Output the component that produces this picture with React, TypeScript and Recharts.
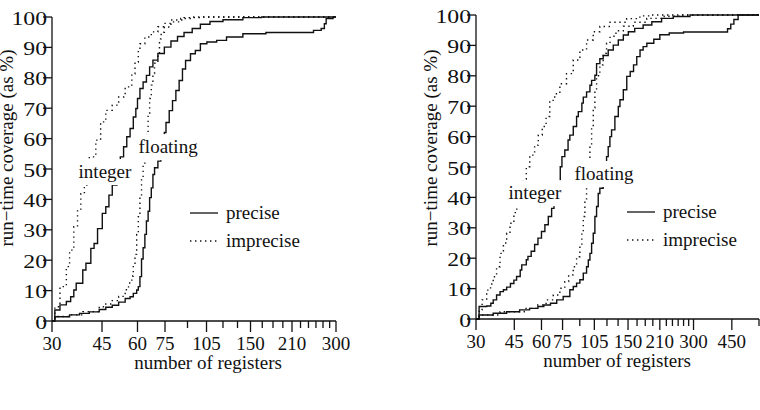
import React from 'react';
import { LineChart, Line, XAxis, YAxis, ReferenceDot, Legend } from 'recharts';

const FONT = "'Liberation Serif', 'Times New Roman', Times, 'DejaVu Serif', serif";
const INK = '#111';
const DOTS = '1.4 3.6';
const TXT = { fontFamily: FONT, fontSize: 19 };

// [number of registers, run-time coverage %]
const leftIntPrecise = [
  [30, 0], [30.7, 3.6], [32, 5.3], [33.7, 6.4], [34.9, 8.0], [35.8, 10.2], [36.5, 12.4], [38.5, 16.8],
  [39.5, 19.0], [41.1, 23.9], [42.2, 25.5], [43.4, 30.4], [45.1, 35.4], [46.4, 37.6], [47.6, 41.4],
  [48.9, 44.7], [50.8, 49.6], [52.2, 54.0], [53.6, 57.3], [55.0, 60.6], [56.5, 63.3], [58.0, 67.1],
  [59.2, 69.9], [60.0, 73.2], [61.2, 76.5], [62.8, 78.6], [64.5, 80.8], [66.2, 83.6], [68.0, 85.8],
  [70.8, 88.0], [74.6, 90.1], [78.7, 92.1], [83.0, 93.6], [87.5, 94.9], [93.5, 96.2], [99.9, 97.6],
  [108, 98.5], [120, 99.1], [141, 99.8], [164, 100], [300, 100],
];
const leftIntImprecise = [
  [30, 0], [30.7, 4.7], [32, 11.3], [33.7, 17.9], [34.6, 23.3], [35.8, 31.0], [36.9, 36.5], [37.9, 41.9],
  [39.0, 44.7], [40.6, 54.0], [42.8, 59.5], [44.5, 65.5], [46.4, 69.3], [48.9, 71.0], [51.5, 73.7],
  [54.3, 77.0], [57.3, 81.3], [58.8, 85.2], [60.4, 89.0], [61.2, 91.2], [63.7, 93.4], [67.1, 95.1],
  [70.8, 96.8], [74.6, 97.9], [78.7, 99.0], [87.5, 99.8], [99.9, 100], [300, 100],
];
const leftFloatPrecise = [
  [30, 0], [30.7, 1.4], [34.6, 2.0], [37.5, 2.5], [40.6, 3.0], [44.0, 3.8], [46.4, 4.5], [48.9, 5.2],
  [51.5, 6.2], [54.3, 7.4], [56.5, 8.0], [58.0, 9.1], [59.6, 10.2], [60.4, 11.3], [61.2, 14.6],
  [62.0, 20.4], [62.8, 24.1], [63.7, 28.5], [64.5, 32.9], [65.4, 36.1], [66.2, 40.6], [67.1, 43.8],
  [68.0, 48.2], [68.9, 50.4], [70.8, 52.6], [72.5, 57.0], [74.6, 62.0], [75.6, 65.3], [77.6, 69.2],
  [79.7, 72.5], [81.9, 75.8], [84.1, 79.1], [86.4, 82.9], [88.6, 85.7], [92.2, 87.9], [95.9, 89.0],
  [99.9, 91.2], [105.3, 91.8], [114, 92.3], [123.5, 93.4], [141, 94.5], [170, 94.9], [250, 95.6],
  [266, 96.2], [273, 97.8], [277, 99.5], [293, 100], [300, 100],
];
const leftFloatImprecise = [
  [30, 0], [30.7, 1.5], [34.6, 2.0], [38.5, 3.1], [44.0, 4.7], [46.4, 5.6], [48.9, 6.7], [51.5, 8.1],
  [54.3, 10.3], [55.8, 12.5], [57.3, 14.8], [58.0, 17.9], [58.8, 21.9], [59.6, 28.5], [60.4, 34.3],
  [61.2, 40.7], [62.0, 47.1], [62.8, 51.5], [63.7, 56.4], [64.5, 61.7], [65.4, 68.3], [66.2, 73.2],
  [67.1, 77.6], [68.0, 81.4], [68.9, 84.8], [70.8, 88.1], [71.7, 92.8], [72.7, 95.0], [74.6, 96.7],
  [78.7, 98.4], [85.2, 99.5], [92, 100], [300, 100],
];

const rightIntPrecise = [
  [30, 0], [31, 4.1], [33.6, 4.3], [35.1, 5.2], [36, 6.3], [37.3, 7.9], [38.7, 9.0], [40.1, 9.6],
  [41.5, 10.5], [43.2, 11.7], [44.8, 12.8], [46.1, 14.0], [47.9, 16.1], [48.7, 17.8], [51.1, 19.5],
  [52, 20.6], [53.8, 22.3], [55.8, 24.5], [57.8, 26.6], [60, 28.8], [62.2, 31], [64.5, 33.7],
  [66.8, 36.4], [68.5, 39], [70.5, 42], [72, 45.2], [73.2, 50.1], [74.5, 53.4], [76.8, 55.6],
  [79.5, 58.9], [81, 60.5], [84, 63.3], [87, 66.6], [88.6, 68.2], [92, 71], [93.4, 73], [96.7, 74.7],
  [100.2, 76.9], [102, 78.5], [105.6, 80.2], [107.5, 84], [111.3, 85.6], [115.3, 86.7], [121.6, 88.5],
  [128.3, 90.1], [135.3, 91.8], [142.7, 93.4], [150.5, 94.5], [161, 95.6], [176, 96.7], [193, 97.8],
  [214, 98.9], [242, 99.5], [289, 100], [600, 100],
];
const rightIntImprecise = [
  [30, 0], [31, 3], [32, 6.3], [33.6, 9.5], [35, 11.5], [36, 13.9], [37.3, 17.2], [38.7, 21.6],
  [40.1, 25], [41.5, 28.2], [43, 31.5], [44.8, 35], [46.2, 39.1], [48, 42.5], [49.5, 46], [51.1, 50.1],
  [53, 53.9], [55.8, 57.2], [58, 60.5], [60.5, 63.3], [63, 66.6], [65.5, 71.9], [69, 74.1],
  [72.9, 77.4], [78.2, 80.7], [84, 85.2], [90.1, 88.5], [96.7, 91.8], [103.8, 94.5], [111.3, 96.2],
  [124, 97.6], [147.8, 98.8], [170, 99.7], [190, 100], [600, 100],
];
const rightFloatPrecise = [
  [30, 0], [31, 1.3], [36, 1.9], [41.5, 2.4], [47.6, 3.0], [52.9, 3.5], [57.8, 4.1], [61.5, 4.6],
  [66, 5.2], [70.5, 6.3], [75.5, 7.4], [81, 9.6], [84, 10.7], [87, 11.8], [90.1, 12.9], [93.4, 15.1],
  [96.7, 17.2], [98.5, 19.4], [100.2, 21.6], [102, 24.9], [103.8, 28.2], [105.6, 33.7], [107.5, 37],
  [109.4, 41.3], [111.3, 43], [115.3, 47.5], [119.5, 53.4], [121.6, 56.7], [123.8, 60], [126, 62.2],
  [130.5, 66.6], [135.3, 69.9], [137.7, 72.1], [142.7, 75.4], [148, 79.8], [153.5, 81.4], [159, 83.6],
  [164.5, 86.3], [170.3, 88.5], [176, 89.6], [183, 90.7], [197, 92], [210, 93.5], [232, 94.1],
  [270, 94.4], [419, 94.4], [430, 95.5], [445, 97], [460, 98.5], [481, 100], [600, 100],
];
const rightFloatImprecise = [
  [30, 0], [31, 1.3], [38.7, 2.4], [50, 3.5], [57, 4.6], [63, 6.3], [68, 7.9], [72.9, 10.1],
  [76.8, 12.3], [80, 14.5], [84, 17.2], [87, 20.5], [90.1, 24], [92, 28.5], [93.4, 33.7], [95, 39],
  [96.7, 44.6], [98.5, 50], [100.2, 56.5], [102, 63], [103.8, 69.5], [105.6, 75], [107.5, 80],
  [111.3, 83.6], [115.3, 87.4], [119.5, 90.7], [124, 93], [132, 94.8], [142.7, 96.3], [158.6, 97.6],
  [182.8, 98.9], [220, 99.6], [260, 100], [600, 100],
];

const leftTicks = [30, 45, 60, 75, 90, 105, 120, 135, 150, 165, 180, 195, 210, 225, 240, 255, 270, 285, 300];
const rightTicks = [...leftTicks, 450, 600];
const labelledTicks = [30, 45, 60, 75, 105, 150, 210, 300, 450];
const yTicks = [0, 10, 20, 30, 40, 50, 60, 70, 80, 90, 100];
const legendItems = [
  { name: 'precise', dash: undefined },
  { name: 'imprecise', dash: DOTS },
];

const toRows = (pts: number[][]) => pts.map(([v, p]) => ({ v, p }));

const XTick = ({ x, y, payload }: any) => {
  const major = labelledTicks.includes(payload.value);
  return (
    <g>
      <line x1={x} y1={y} x2={x} y2={y + (major ? 11 : 7)} stroke={INK} strokeWidth={1.3} />
      {major && (
        <text x={x} y={y + 29} textAnchor="middle" fill={INK} style={TXT}>
          {payload.value}
        </text>
      )}
    </g>
  );
};

// y tick numbers in the original are drawn a little wider than the x ones
const YTick = ({ x, y, payload }: any) => (
  <g>
    <line x1={x - 9} y1={y} x2={x} y2={y} stroke={INK} strokeWidth={1.3} />
    <text transform={`translate(${x - 5} ${y + 7.5}) scale(1.25 1)`} textAnchor="end" fill={INK} style={TXT}>
      {payload.value}
    </text>
  </g>
);

const TagShape = (text: string, w: number) => (props: any) => (
  <g>
    <rect x={props.cx - w / 2} y={props.cy - 13} width={w} height={26} fill="#fff" />
    <text x={props.cx} y={props.cy + 6} textAnchor="middle" fill={INK} style={TXT}>
      {text}
    </text>
  </g>
);

const LegendBox = () => (
  <svg width={150} height={56}>
    {legendItems.map((it, i) => (
      <g key={it.name}>
        <line x1={0} x2={28} y1={14 + i * 28} y2={14 + i * 28} stroke={INK} strokeWidth={1.3} strokeDasharray={it.dash} />
        <text x={36} y={20 + i * 28} fill={INK} style={TXT}>
          {it.name}
        </text>
      </g>
    ))}
  </svg>
);

type PanelProps = {
  left: number;
  axisX: number;
  top: number;
  plotW: number;
  xMax: number;
  ticks: number[];
  series: number[][][];
  intAt: number[];
  floatAt: number[];
  legendAt: { left: number; top: number };
  xLabelX: number;
};

const Panel = ({ left, axisX, top, plotW, xMax, ticks, series, intAt, floatAt, legendAt, xLabelX }: PanelProps) => (
  <div style={{ position: 'absolute', left, top: 0 }}>
    <LineChart
      width={380}
      height={410}
      margin={{ top, right: 380 - axisX - plotW, bottom: 410 - top - 304 - 30, left: axisX - 52 }}
    >
      <XAxis
        dataKey="v"
        type="number"
        scale="log"
        domain={[30, xMax]}
        allowDataOverflow
        ticks={ticks}
        interval={0}
        tickSize={0}
        tickMargin={0}
        tickLine={false}
        tick={<XTick />}
        height={30}
        stroke={INK}
        strokeWidth={1.3}
        label={{
          content: () => (
            <text x={xLabelX} y={top + 304 + 48} textAnchor="middle" fill={INK} style={TXT}>
              number of registers
            </text>
          ),
        }}
      />
      <YAxis
        type="number"
        domain={[0, 100]}
        ticks={yTicks}
        interval={0}
        width={52}
        tickSize={0}
        tickMargin={0}
        tickLine={false}
        tick={<YTick />}
        stroke={INK}
        strokeWidth={1.3}
        label={{
          content: () => (
            <text
              x={axisX - 45.5}
              y={148}
              transform={`rotate(-90 ${axisX - 45.5} 148)`}
              textAnchor="middle"
              dominantBaseline="central"
              fill={INK}
              style={TXT}
            >
              run−time coverage (as %)
            </text>
          ),
        }}
      />
      {series.map((s, i) => (
        <Line
          key={i}
          data={toRows(s)}
          dataKey="p"
          type="stepAfter"
          dot={false}
          activeDot={false}
          stroke={INK}
          strokeWidth={1.4}
          strokeDasharray={i % 2 === 1 ? DOTS : undefined}
          isAnimationActive={false}
        />
      ))}
      <ReferenceDot x={intAt[0]} y={intAt[1]} r={0} shape={TagShape('integer', 58)} />
      <ReferenceDot x={floatAt[0]} y={floatAt[1]} r={0} shape={TagShape('floating', 64)} />
      <Legend
        layout="vertical"
        align="center"
        verticalAlign="middle"
        wrapperStyle={{ left: legendAt.left, top: legendAt.top, width: 150, height: 56 }}
        content={() => <LegendBox />}
      />
    </LineChart>
  </div>
);

export default function App() {
  return (
    <div
      style={{
        position: 'absolute',
        left: 0,
        top: 0,
        width: 760,
        height: 410,
        overflow: 'hidden',
        background: '#fff',
        fontFamily: FONT,
      }}
    >
      <Panel
        left={0}
        axisX={52}
        top={17}
        plotW={284}
        xMax={300}
        ticks={leftTicks}
        series={[leftIntPrecise, leftIntImprecise, leftFloatPrecise, leftFloatImprecise]}
        intAt={[46.1, 49]}
        floatAt={[76.9, 57.2]}
        legendAt={{ left: 190, top: 199 }}
        xLabelX={208}
      />
      <Panel
        left={380}
        axisX={96}
        top={15}
        plotW={283}
        xMax={600}
        ticks={rightTicks}
        series={[rightIntPrecise, rightIntImprecise, rightFloatPrecise, rightFloatImprecise]}
        intAt={[56, 41.4]}
        floatAt={[116.4, 47.7]}
        legendAt={{ left: 247, top: 198 }}
        xLabelX={237}
      />
    </div>
  );
}
